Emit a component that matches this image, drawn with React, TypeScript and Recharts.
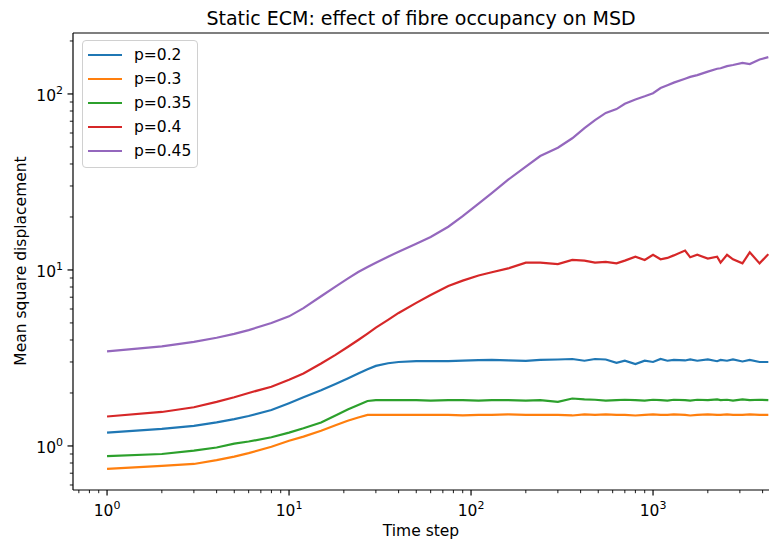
import { LineChart, Line, XAxis, YAxis, Legend, ReferenceLine } from "recharts";

const TIME = [
  1, 2, 3, 4, 5, 6, 8, 10, 12, 15, 18, 21, 24, 27, 30, 35, 40, 50, 60, 75, 90, 110, 130, 160, 200, 240, 300,
  360, 420, 480, 550, 630, 700, 800, 900, 1000, 1100, 1200, 1300, 1500, 1600, 1750, 2000, 2250, 2350, 2550,
  2750, 3100, 3400, 3850, 4300,
];

const P02 = [
  1.19, 1.25, 1.3, 1.36, 1.42, 1.48, 1.6, 1.75, 1.89, 2.07, 2.25, 2.42, 2.58, 2.73, 2.85, 2.95, 3.0, 3.03, 3.03,
  3.03, 3.05, 3.07, 3.08, 3.06, 3.04, 3.08, 3.1, 3.12, 3.05, 3.12, 3.1, 2.97, 3.05, 2.92, 3.05, 3.0, 3.12, 3.05,
  3.08, 3.06, 3.1, 3.05, 3.1, 3.03, 3.08, 3.05, 3.1, 3.02, 3.08, 3.0, 3.0,
];
const P03 = [
  0.74, 0.77, 0.79, 0.83, 0.87, 0.91, 0.99, 1.07, 1.13, 1.22, 1.31, 1.39, 1.45, 1.5, 1.5, 1.5, 1.5, 1.5, 1.5, 1.5,
  1.49, 1.5, 1.5, 1.51, 1.5, 1.5, 1.5, 1.49, 1.51, 1.5, 1.51, 1.5, 1.5, 1.49, 1.5, 1.51, 1.5, 1.5, 1.51, 1.5,
  1.49, 1.5, 1.51, 1.5, 1.5, 1.51, 1.5, 1.5, 1.51, 1.5, 1.5,
];
const P035 = [
  0.875, 0.9, 0.94, 0.98, 1.03, 1.06, 1.12, 1.19, 1.26, 1.36, 1.49, 1.61, 1.71, 1.8, 1.82, 1.82, 1.82, 1.82,
  1.81, 1.82, 1.82, 1.81, 1.82, 1.82, 1.81, 1.82, 1.78, 1.86, 1.84, 1.83, 1.81, 1.82, 1.83, 1.82, 1.81, 1.83,
  1.82, 1.81, 1.83, 1.82, 1.81, 1.83, 1.82, 1.84, 1.82, 1.83, 1.81, 1.84, 1.82, 1.83, 1.82,
];
const P04 = [
  1.47, 1.56, 1.66, 1.78, 1.89, 2.0, 2.17, 2.38, 2.58, 2.94, 3.29, 3.65, 4.0, 4.35, 4.7, 5.2, 5.7, 6.5, 7.2, 8.1,
  8.7, 9.3, 9.7, 10.2, 11.0, 11.0, 10.8, 11.4, 11.3, 11.0, 11.1, 10.9, 11.3, 11.9, 11.4, 12.2, 11.5, 11.7, 12.1,
  12.9, 11.8, 12.2, 11.6, 11.9, 11.0, 12.2, 11.5, 10.9, 12.6, 10.9, 12.3,
];
const P045 = [
  3.45, 3.68, 3.9, 4.12, 4.33, 4.55, 5.0, 5.45, 6.07, 7.09, 8.04, 8.93, 9.74, 10.4, 11.0, 11.9, 12.7, 14.1, 15.4,
  17.6, 20.2, 23.8, 27.3, 32.6, 38.7, 44.4, 49.5, 56, 64, 71, 78, 82, 88, 93, 97, 101, 108, 112, 116, 122, 125,
  128, 134, 139, 140, 144, 146, 150, 148, 157, 162,
];

const SERIES = [
  { key: "p02", name: "p=0.2", color: "#1f77b4", values: P02 },
  { key: "p03", name: "p=0.3", color: "#ff7f0e", values: P03 },
  { key: "p035", name: "p=0.35", color: "#2ca02c", values: P035 },
  { key: "p04", name: "p=0.4", color: "#d62728", values: P04 },
  { key: "p045", name: "p=0.45", color: "#9467bd", values: P045 },
];

const X_DOMAIN = [0.65, 4337];
const Y_DOMAIN = [0.562, 222];
const X_TICKS = [0.7, 0.8, 0.9, 1, 2, 3, 4, 5, 6, 7, 8, 9, 10, 20, 30, 40, 50, 60, 70, 80, 90, 100, 200, 300, 400,
  500, 600, 700, 800, 900, 1000, 2000, 3000, 4000];
const Y_TICKS = [0.6, 0.7, 0.8, 0.9, 1, 2, 3, 4, 5, 6, 7, 8, 9, 10, 20, 30, 40, 50, 60, 70, 80, 90, 100, 200];

const data = TIME.map((t, i) => {
  const row: Record<string, number> = { t };
  SERIES.forEach((s) => (row[s.key] = s.values[i]));
  return row;
});

const FONT = "DejaVu Sans, sans-serif";

function decade(v: number) {
  const e = Math.log10(v);
  return Math.abs(e - Math.round(e)) < 1e-9 ? Math.round(e) : null;
}

function XTick({ x, y, payload }: any) {
  const e = decade(payload.value);
  return (
    <g>
      <line x1={x} x2={x} y1={y} y2={y + (e === null ? 3.2 : 5.5)} stroke="#000" strokeWidth={e === null ? 0.9 : 1.2} />
      {e !== null && (
        <text x={x} y={y + 26} textAnchor="middle" fontSize={15.5} fontFamily={FONT} fill="#000">
          <tspan>10</tspan>
          <tspan dy={-7} fontSize={11}>{e}</tspan>
        </text>
      )}
    </g>
  );
}

function YTick({ x, y, payload }: any) {
  const e = decade(payload.value);
  return (
    <g>
      <line x1={x} x2={x - (e === null ? 3.2 : 5.5)} y1={y} y2={y} stroke="#000" strokeWidth={e === null ? 0.9 : 1.2} />
      {e !== null && (
        <text x={x - 10} y={y + 7} textAnchor="end" fontSize={15.5} fontFamily={FONT} fill="#000">
          <tspan>10</tspan>
          <tspan dy={-7} fontSize={11}>{e}</tspan>
        </text>
      )}
    </g>
  );
}

function LegendBox({ payload }: any) {
  return (
    <div
      style={{
        width: 114,
        height: 124,
        border: "1px solid #d0d0d0",
        borderRadius: 4,
        background: "rgba(255,255,255,0.8)",
        boxSizing: "content-box",
        paddingTop: 2,
        fontFamily: FONT,
        fontSize: 15.5,
      }}
    >
      {(payload || []).map((p: any) => (
        <div key={p.value} style={{ display: "flex", alignItems: "center", height: 24 }}>
          <span style={{ display: "inline-block", width: 34, height: 2.2, background: p.color, marginLeft: 5, marginRight: 12 }} />
          <span style={{ color: "#000" }}>{p.value}</span>
        </div>
      ))}
    </div>
  );
}

export default function App() {
  return (
    <div style={{ position: "absolute", left: 0, top: 0, width: 769, height: 542, background: "#fff" }}>
      <LineChart width={769} height={542} data={data} margin={{ top: 33, right: 0, bottom: 0, left: 0 }}>
        <text x={421} y={25} textAnchor="middle" fontSize={19} fontFamily={FONT} fill="#000">
          Static ECM: effect of fibre occupancy on MSD
        </text>
        <text
          x={26}
          y={261}
          transform="rotate(-90, 26, 261)"
          textAnchor="middle"
          fontSize={15.5}
          fontFamily={FONT}
          fill="#000"
        >
          Mean square displacement
        </text>
        <text x={421} y={536} textAnchor="middle" fontSize={15.5} fontFamily={FONT} fill="#000">
          Time step
        </text>
        <XAxis
          dataKey="t"
          type="number"
          scale="log"
          domain={X_DOMAIN}
          allowDataOverflow
          ticks={X_TICKS}
          interval={0}
          tick={<XTick />}
          tickLine={false}
          tickSize={0}
          tickMargin={0}
          height={52}
          axisLine={{ stroke: "#000", strokeWidth: 1.2 }}
        />
        <YAxis
          type="number"
          scale="log"
          domain={Y_DOMAIN}
          allowDataOverflow
          ticks={Y_TICKS}
          interval={0}
          tick={<YTick />}
          tickLine={false}
          tickSize={0}
          tickMargin={0}
          width={73}
          axisLine={{ stroke: "#000", strokeWidth: 1.2 }}
        />
        <ReferenceLine y={Y_DOMAIN[1]} stroke="#000" strokeWidth={1.2} />
        {SERIES.map((s) => (
          <Line
            key={s.key}
            dataKey={s.key}
            name={s.name}
            stroke={s.color}
            strokeWidth={2.2}
            dot={false}
            type="linear"
            isAnimationActive={false}
          />
        ))}
        <Legend
          layout="vertical"
          align="center"
          verticalAlign="middle"
          content={<LegendBox />}
          wrapperStyle={{ left: 82, top: 40, width: 116, height: 128 }}
        />
      </LineChart>
    </div>
  );
}
